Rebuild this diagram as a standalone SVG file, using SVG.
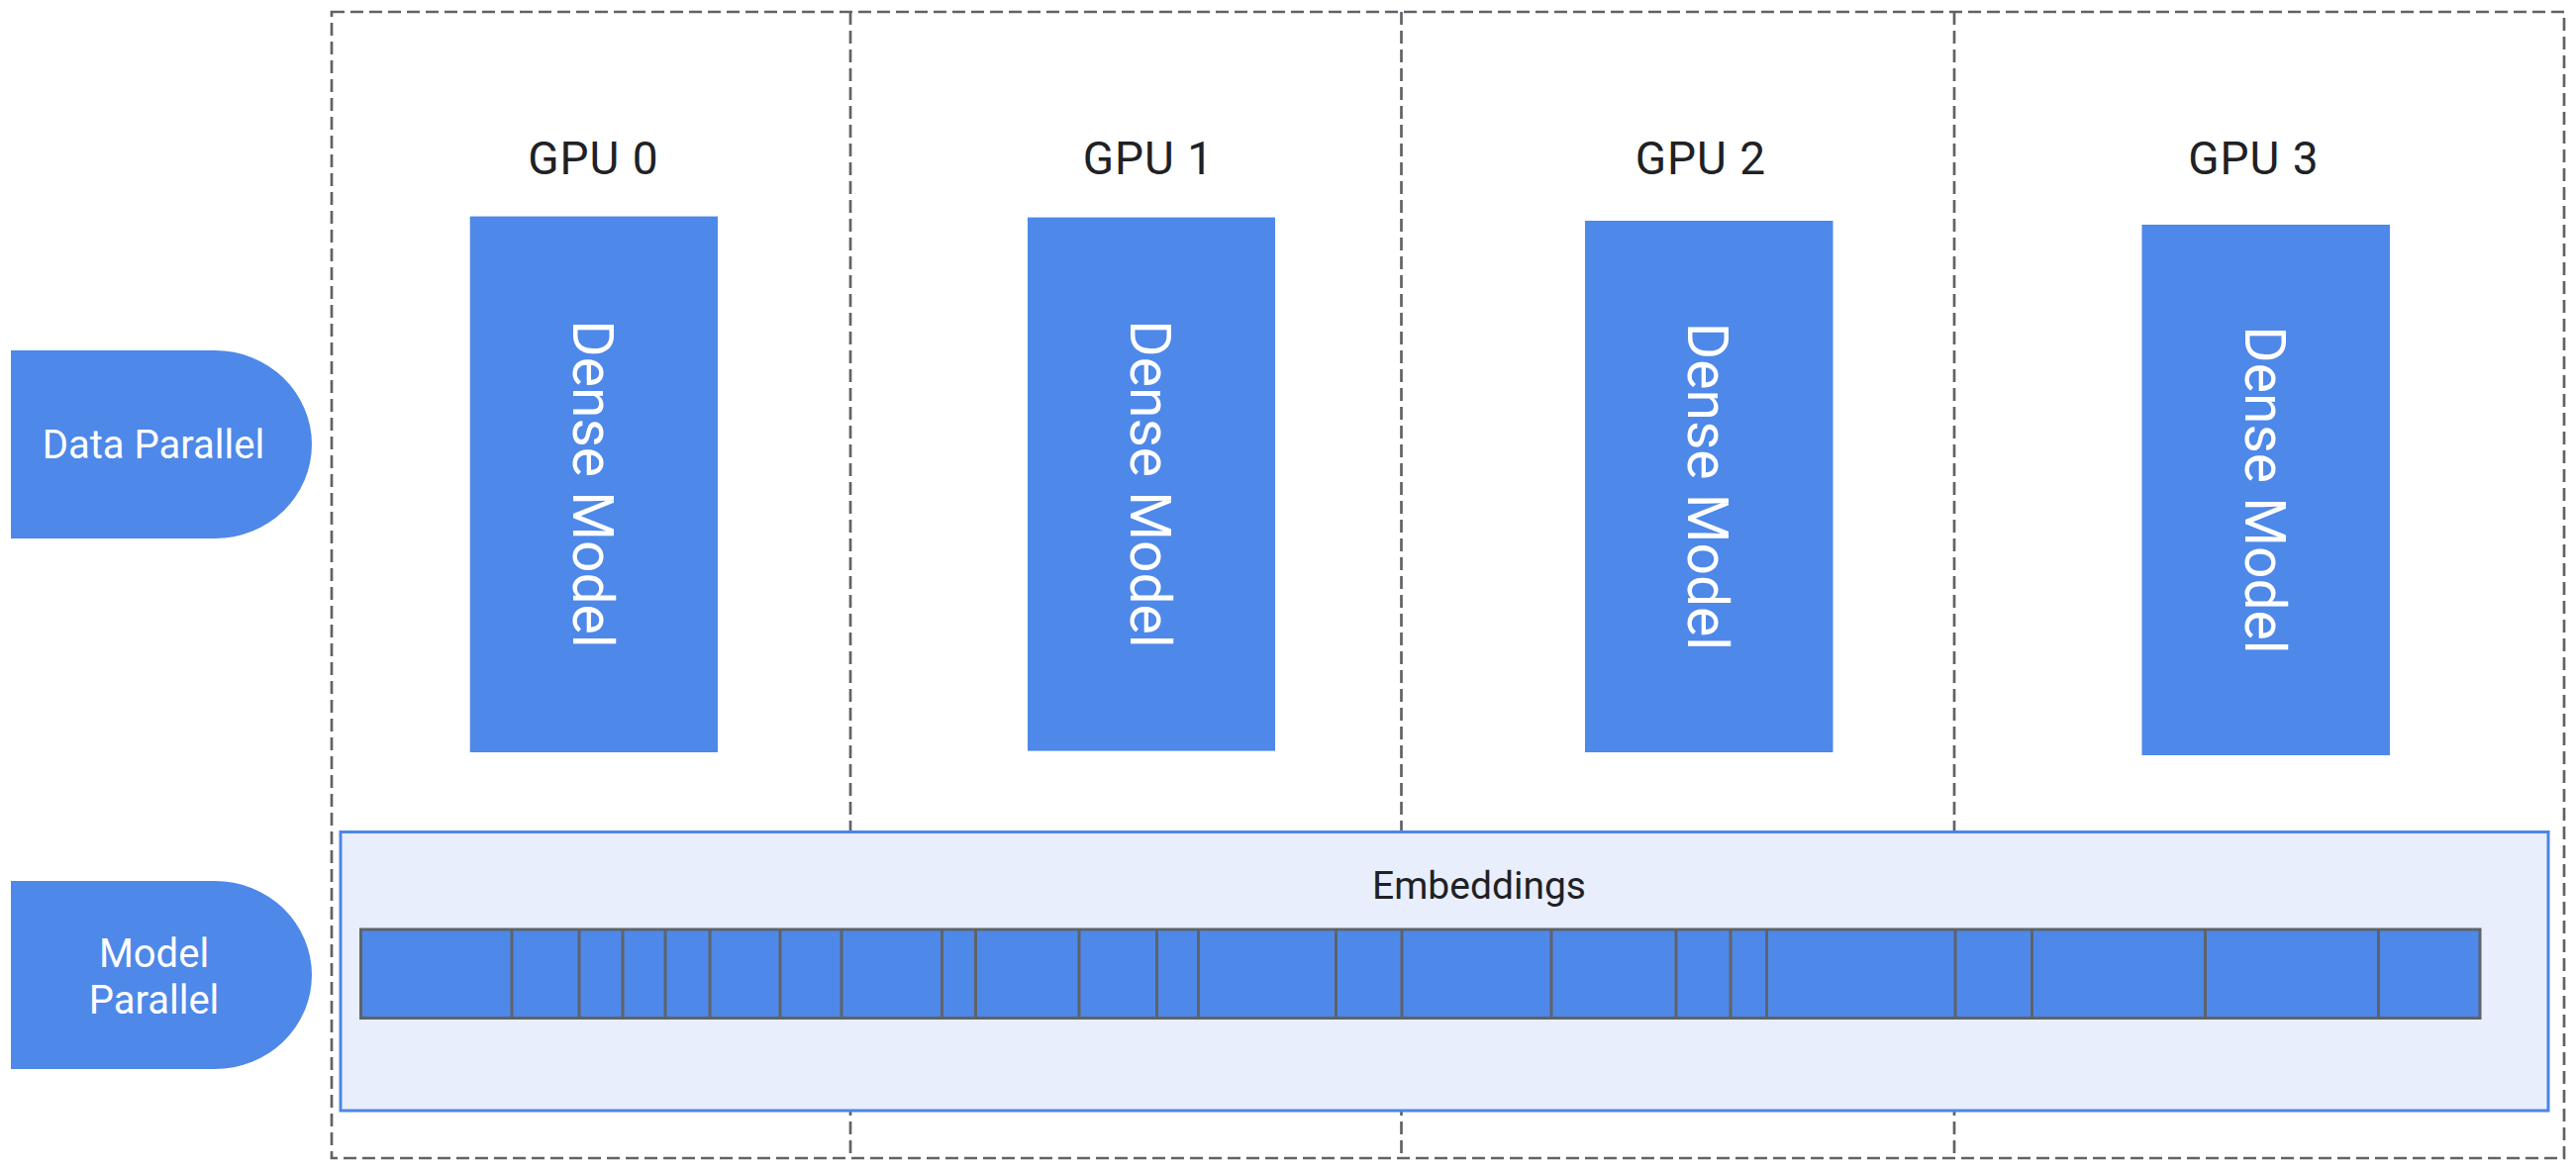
<svg xmlns="http://www.w3.org/2000/svg" width="2602" height="1182" viewBox="0 0 2602 1182">
<style>
.dash{fill:none;stroke:#5f6368;stroke-width:2.7;stroke-dasharray:13 6}
.blue{fill:#4e88e9}
.lbl{font-family:Roboto,"Liberation Sans",sans-serif;fill:#ffffff;font-size:40px;font-weight:400;text-anchor:middle}
.gpu{font-family:Roboto,"Liberation Sans",sans-serif;fill:#202124;font-size:46px;text-anchor:middle;letter-spacing:1px}
.dm{font-family:Roboto,"Liberation Sans",sans-serif;fill:#ffffff;font-size:57px;font-weight:400;text-anchor:middle}
.emb{font-family:Roboto,"Liberation Sans",sans-serif;fill:#202124;font-size:39px;text-anchor:middle}
.cell{stroke:#5f6368;stroke-width:3}
</style>
<rect width="2602" height="1182" fill="#ffffff"/>
<g id="gpu-frame">
<rect class="dash" x="335" y="12" width="2255" height="1158"/>
<line class="dash" x1="859" y1="12" x2="859" y2="1170"/>
<line class="dash" x1="1415.5" y1="12" x2="1415.5" y2="1170"/>
<line class="dash" x1="1974" y1="12" x2="1974" y2="1170"/>
</g>
<g id="data-parallel">
<path class="blue" d="M11,354 H217 A98,95 0 0 1 217,544 H11 Z"/>
<text class="lbl" x="155" y="462.5">Data Parallel</text>
</g>
<g id="model-parallel">
<path class="blue" d="M11,890 H217 A98,95 0 0 1 217,1080 H11 Z"/>
<text class="lbl" x="155.5" y="976.5">Model</text>
<text class="lbl" x="155.5" y="1024">Parallel</text>
</g>
<g id="gpu0">
<text class="gpu" x="599.5" y="175.5">GPU 0</text>
<rect class="blue" x="474.7" y="218.6" width="250.3" height="541.4"/>
<text class="dm" transform="translate(600,489) rotate(90)" x="0" y="21">Dense Model</text>
</g>
<g id="gpu1">
<text class="gpu" x="1160" y="175.5">GPU 1</text>
<rect class="blue" x="1038" y="219.6" width="250" height="539"/>
<text class="dm" transform="translate(1163,489) rotate(90)" x="0" y="21">Dense Model</text>
</g>
<g id="gpu2">
<text class="gpu" x="1718" y="176">GPU 2</text>
<rect class="blue" x="1601" y="223" width="250.5" height="537"/>
<text class="dm" transform="translate(1726,491.5) rotate(90)" x="0" y="21">Dense Model</text>
</g>
<g id="gpu3">
<text class="gpu" x="2276.5" y="176">GPU 3</text>
<rect class="blue" x="2163.5" y="227" width="250.5" height="536"/>
<text class="dm" transform="translate(2289,495) rotate(90)" x="0" y="21">Dense Model</text>
</g>
<g id="embeddings">
<rect x="344" y="840.5" width="2230" height="281.5" fill="#e8eefb" stroke="#4a86e8" stroke-width="3"/>
<text class="emb" x="1494" y="908">Embeddings</text>
<rect class="blue" x="364.5" y="939" width="2140.5" height="89.5" stroke="#5f6368" stroke-width="3"/>
<g class="cell">
<line x1="517" y1="939" x2="517" y2="1028.5"/>
<line x1="585" y1="939" x2="585" y2="1028.5"/>
<line x1="629" y1="939" x2="629" y2="1028.5"/>
<line x1="672" y1="939" x2="672" y2="1028.5"/>
<line x1="717" y1="939" x2="717" y2="1028.5"/>
<line x1="788" y1="939" x2="788" y2="1028.5"/>
<line x1="850" y1="939" x2="850" y2="1028.5"/>
<line x1="951.5" y1="939" x2="951.5" y2="1028.5"/>
<line x1="985.5" y1="939" x2="985.5" y2="1028.5"/>
<line x1="1090" y1="939" x2="1090" y2="1028.5"/>
<line x1="1168.5" y1="939" x2="1168.5" y2="1028.5"/>
<line x1="1210.5" y1="939" x2="1210.5" y2="1028.5"/>
<line x1="1349.5" y1="939" x2="1349.5" y2="1028.5"/>
<line x1="1416" y1="939" x2="1416" y2="1028.5"/>
<line x1="1567" y1="939" x2="1567" y2="1028.5"/>
<line x1="1693" y1="939" x2="1693" y2="1028.5"/>
<line x1="1748" y1="939" x2="1748" y2="1028.5"/>
<line x1="1784.5" y1="939" x2="1784.5" y2="1028.5"/>
<line x1="1975" y1="939" x2="1975" y2="1028.5"/>
<line x1="2052.5" y1="939" x2="2052.5" y2="1028.5"/>
<line x1="2227.5" y1="939" x2="2227.5" y2="1028.5"/>
<line x1="2402.5" y1="939" x2="2402.5" y2="1028.5"/>
</g>
</g>
</svg>
